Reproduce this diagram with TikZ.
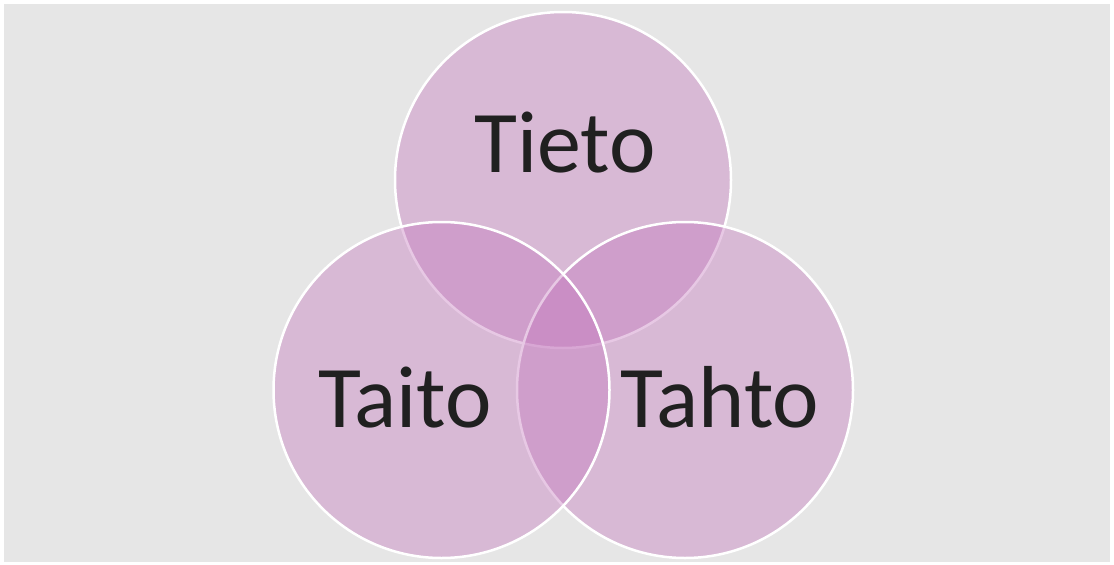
\documentclass[tikz,border=0pt]{standalone}
\usepackage{fontspec}
\setmainfont{Carlito}
\definecolor{bg}{RGB}{230,230,230}
\definecolor{vfill}{RGB}{195,118,188}
\definecolor{txt}{RGB}{32,32,32}
\begin{document}
\begin{tikzpicture}[x=1pt,y=-1pt,
  venn/.style={circle,minimum size=336pt,inner sep=0pt,fill=vfill,fill opacity=0.4,draw=white,draw opacity=1,line width=2.5pt},
  lbl/.style={text=txt,font=\fontsize{88}{100}\selectfont,anchor=base,inner sep=0pt}]
\useasboundingbox (0,0) rectangle (1114,565);
\fill[white] (0,0) rectangle (1114,565);
\fill[bg] (4,4) rectangle (1110,562);
\node[venn] (top) at (563,180) {};
\node[venn] (right) at (685,390) {};
\node[venn] (left) at (441.5,390) {};
\node[lbl] (tieto) at (565,172) {Tieto};
\node[lbl] (taito) at (405,427) {Taito};
\node[lbl] (tahto) at (720,427) {Tahto};
\end{tikzpicture}
\end{document}
